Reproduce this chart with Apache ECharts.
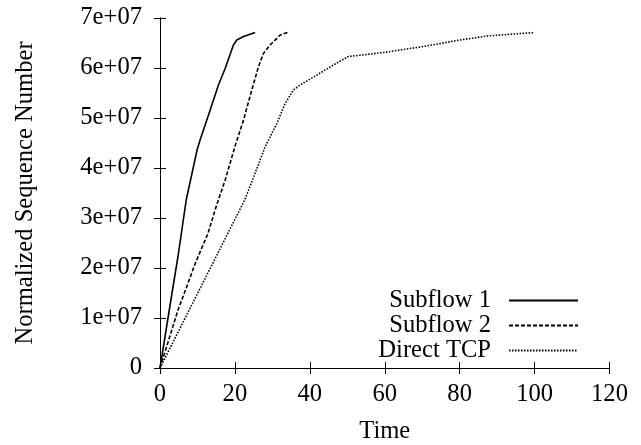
<!DOCTYPE html>
<html>
<head>
<meta charset="utf-8">
<script src="https://cdn.jsdelivr.net/npm/echarts@6/dist/echarts.min.js"></script>
<style>html,body{margin:0;padding:0;background:#fff}#c{width:641px;height:445px}</style>
</head>
<body>
<div id="c"></div>
<script>
const seriesNames = ['Subflow 1', 'Subflow 2', 'Direct TCP'];
const subflow1 = [[0,0],[3.1,1.45e7],[4.8,2.23e7],[7.0,3.36e7],[9.9,4.36e7],[10.7,4.56e7],[13.4,5.16e7],[15.6,5.66e7],[17.4,5.99e7],[19.6,6.46e7],[20.5,6.56e7],[22.3,6.63e7],[25.4,6.71e7]];
const subflow2 = [[0,0],[4.8,1.16e7],[7.1,1.62e7],[9.4,2.09e7],[12.8,2.69e7],[15.0,3.23e7],[17.4,3.76e7],[20.0,4.43e7],[22.3,4.96e7],[24.5,5.56e7],[26.3,6.03e7],[27.6,6.29e7],[29.4,6.46e7],[32.1,6.66e7],[34.3,6.72e7]];
const directTcp = [[0,0],[22.6,3.36e7],[24.9,3.8e7],[28.1,4.43e7],[31.2,4.89e7],[33.4,5.29e7],[35.6,5.56e7],[37.4,5.66e7],[41.9,5.86e7],[46.3,6.06e7],[50.3,6.23e7],[59.7,6.31e7],[70.3,6.43e7],[80.1,6.56e7],[87.3,6.64e7],[100,6.71e7]];
const xTicks = [0,20,40,60,80,100,120];
const yTicks = [0,1e7,2e7,3e7,4e7,5e7,6e7,7e7];

const FONT = 'Liberation Serif';
const FS = 24.6;
const dashTypes = ['solid', [4,2], [1.5,1.5]];
const allData = [subflow1, subflow2, directTcp];

const chart = echarts.init(document.getElementById('c'), null, {renderer:'canvas'});
const axisLine = {show:true, lineStyle:{color:'#000', width:1}};
const tick = {show:true, inside:true, length:6, lineStyle:{color:'#000', width:1}};
const option = {
  animation:false,
  backgroundColor:'#fff',
  textStyle:{fontFamily:FONT},
  grid:{left:160, top:18, right:31.5, bottom:77, containLabel:false, outerBoundsMode:'none'},
  xAxis:[{
    type:'value', min:xTicks[0], max:xTicks[xTicks.length-1], interval:20,
    name:'Time', nameLocation:'middle', nameGap:51,
    nameTextStyle:{fontFamily:FONT, fontSize:FS, color:'#000'},
    axisLine:axisLine, axisTick:tick, splitLine:{show:false},
    axisLabel:{fontFamily:FONT, fontSize:FS, color:'#000', margin:14}
  },{
    type:'value', position:'top', min:xTicks[0], max:xTicks[xTicks.length-1], interval:20,
    axisLine:axisLine, axisTick:tick, splitLine:{show:false}, axisLabel:{show:false}
  }],
  yAxis:[{
    type:'value', min:yTicks[0], max:yTicks[yTicks.length-1], interval:1e7,
    name:'Normalized Sequence Number', nameLocation:'middle', nameGap:122,
    nameTextStyle:{fontFamily:FONT, fontSize:FS, color:'#000'},
    axisLine:axisLine, axisTick:tick, splitLine:{show:false},
    axisLabel:{fontFamily:FONT, fontSize:FS, color:'#000', margin:18,
      formatter:v => v===0 ? '0' : (Math.round(v/1e7)) + 'e+07'}
  },{
    type:'value', position:'right', min:yTicks[0], max:yTicks[yTicks.length-1], interval:1e7,
    axisLine:axisLine, axisTick:tick, splitLine:{show:false}, axisLabel:{show:false}
  }],
  legend:{
    data:seriesNames, orient:'vertical', right:62, top:288, bottom:'auto', left:'auto',
    align:'right', itemWidth:69, itemHeight:12, itemGap:0, padding:0,
    itemStyle:{opacity:0},
    textStyle:{fontFamily:FONT, fontSize:FS, color:'#000', padding:[0,13,0,0]}
  },
  series: seriesNames.map((n,i)=>({
    name:n, type:'line', data:allData[i], showSymbol:false, symbol:'none',
    lineStyle:{color:'#000', width:1.6, type:dashTypes[i]},
    itemStyle:{color:'#000'}
  }))
};
chart.setOption(option);
</script>
</body>
</html>
